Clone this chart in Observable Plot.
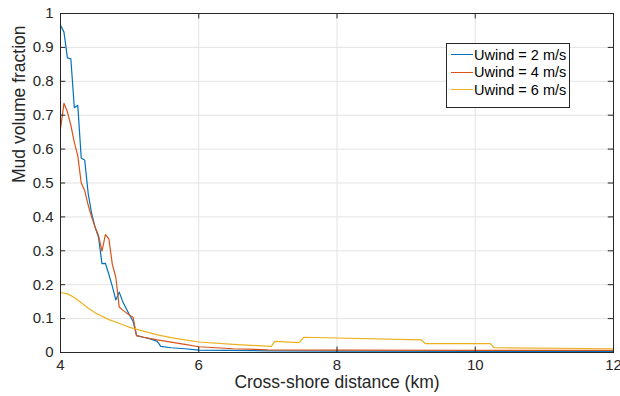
<!DOCTYPE html>
<html>
<head>
<meta charset="utf-8">
<script src="https://cdn.jsdelivr.net/npm/d3@7"></script>
<script src="https://cdn.jsdelivr.net/npm/@observablehq/plot@0.6"></script>
<style>
  body { margin: 0; background: #fff; }
  #wrap { position: relative; width: 620px; height: 396px; font-family: "Liberation Sans", Arial, sans-serif; }
  #legend { position: absolute; left: 446px; top: 43px; width: 124px; height: 65px; border: 1px solid #262626; background: #fff; box-sizing: border-box; font-size: 14.5px; color: #000; padding-top: 2px; }
  .row { display: flex; align-items: center; height: 17.5px; white-space: nowrap; }
  .sw { width: 22px; height: 0; border-top: 1.3px solid; margin-left: 4px; margin-right: 1px; }
</style>
</head>
<body>
<div id="wrap"></div>
<script>
const xTicks = [4, 6, 8, 10, 12];
const yTicks = [0, 0.1, 0.2, 0.3, 0.4, 0.5, 0.6, 0.7, 0.8, 0.9, 1];
const seriesNames = ["Uwind = 2 m/s", "Uwind = 4 m/s", "Uwind = 6 m/s"];
const colors = ["#0072BD", "#D95319", "#EDB120"];

const x2 = [4.00,4.05,4.10,4.15,4.20,4.25,4.30,4.35,4.40,4.45,4.50,4.55,4.60,4.65,4.70,4.75,4.80,4.85,4.90,4.95,5.00,5.05,5.10,5.20,5.30,5.40,5.45,5.60,5.80,6.00,7.00,8.00,10.0,12.0];
const y2 = [0.965,0.945,0.869,0.866,0.722,0.729,0.573,0.568,0.47,0.41,0.37,0.34,0.262,0.263,0.23,0.195,0.155,0.178,0.15,0.13,0.11,0.092,0.05,0.045,0.04,0.033,0.018,0.014,0.011,0.007,0.005,0.004,0.003,0.003];

const x4 = [4.00,4.05,4.10,4.15,4.20,4.25,4.30,4.35,4.40,4.45,4.50,4.55,4.60,4.65,4.70,4.75,4.80,4.85,4.90,5.00,5.05,5.10,5.20,5.40,5.80,6.00,6.50,7.00,8.00,10.0,12.0];
const y4 = [0.66,0.735,0.71,0.67,0.62,0.58,0.50,0.478,0.435,0.40,0.37,0.345,0.299,0.348,0.335,0.26,0.222,0.134,0.125,0.11,0.104,0.05,0.045,0.037,0.024,0.017,0.011,0.008,0.007,0.006,0.006];

const x6 = [4.00,4.10,4.20,4.30,4.40,4.50,4.60,4.70,4.80,4.90,5.00,5.20,5.40,5.60,5.80,6.00,6.50,7.05,7.10,7.45,7.52,9.22,9.28,10.22,10.27,12.00];
const y6 = [0.177,0.173,0.162,0.147,0.131,0.117,0.107,0.097,0.09,0.082,0.074,0.063,0.052,0.044,0.037,0.031,0.024,0.018,0.033,0.029,0.045,0.037,0.026,0.026,0.014,0.011];

const xLabel = "Cross-shore distance (km)";
const yLabel = "Mud volume fraction";

const data = [
  ...x2.map((x, i) => ({x, y: y2[i], s: seriesNames[0]})),
  ...x4.map((x, i) => ({x, y: y4[i], s: seriesNames[1]})),
  ...x6.map((x, i) => ({x, y: y6[i], s: seriesNames[2]}))
];

const ink = "#262626";
const grid = "#e3e3e3";

const chart = Plot.plot({
  width: 620,
  height: 396,
  marginLeft: 60,
  marginRight: 7,
  marginTop: 13,
  marginBottom: 44,
  style: { fontFamily: '"Liberation Sans", Arial, sans-serif', fontSize: "15px", color: ink, background: "#fff" },
  x: { domain: [4, 12] },
  y: { domain: [0, 1] },
  color: { domain: seriesNames, range: colors },
  marks: [
    Plot.gridX(xTicks, { stroke: grid, strokeOpacity: 1 }),
    Plot.gridY(yTicks, { stroke: grid, strokeOpacity: 1 }),
    Plot.line(data, { x: "x", y: "y", z: "s", stroke: "s", strokeWidth: 1.2 }),
    Plot.ruleX(xTicks, { y1: 0, y2: 0.016, stroke: ink }),
    Plot.ruleX(xTicks, { y1: 1, y2: 0.984, stroke: ink }),
    Plot.ruleY(yTicks, { x1: 4, x2: 4.075, stroke: ink }),
    Plot.ruleY(yTicks, { x1: 12, x2: 11.925, stroke: ink }),
    Plot.frame({ stroke: ink, strokeWidth: 1 }),
    Plot.axisX(xTicks, { tickSize: 0, tickPadding: 7, label: null, fontSize: 15, fill: ink }),
    Plot.axisY(yTicks, { tickSize: 0, tickPadding: 7, label: null, fontSize: 15, fill: ink, tickFormat: d => String(d) }),
    Plot.text([xLabel], { frameAnchor: "bottom", dy: 35, fontSize: 17.5, fill: ink, text: d => d }),
    Plot.text([yLabel], { frameAnchor: "left", dx: -41, rotate: -90, fontSize: 17.5, fill: ink, text: d => d })
  ]
});

const wrap = document.getElementById("wrap");
wrap.appendChild(chart);
const legend = document.createElement("div");
legend.id = "legend";
seriesNames.forEach((name, i) => {
  const row = document.createElement("div");
  row.className = "row";
  const sw = document.createElement("span");
  sw.className = "sw";
  sw.style.borderTopColor = colors[i];
  const t = document.createElement("span");
  t.textContent = name;
  row.appendChild(sw);
  row.appendChild(t);
  legend.appendChild(row);
});
wrap.appendChild(legend);
</script>
</body>
</html>
